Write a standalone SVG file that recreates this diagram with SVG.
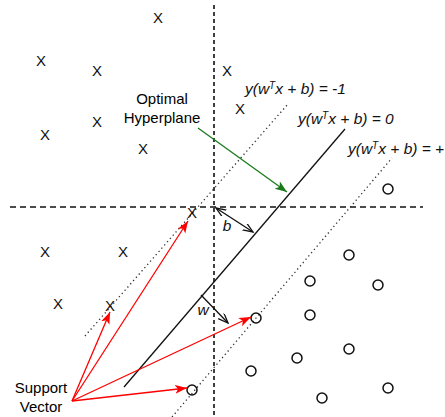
<svg xmlns="http://www.w3.org/2000/svg" width="445" height="417" viewBox="0 0 445 417">
<style>
.t{font-family:"Liberation Sans",Arial,sans-serif;font-size:15px;fill:#000}
.x{font-family:"Liberation Sans",Arial,sans-serif;font-size:15px;fill:#111;text-anchor:middle}
.lab{font-family:"Liberation Sans",Arial,sans-serif;font-size:15.5px;font-style:italic;fill:#111}
.o{fill:none;stroke:#111;stroke-width:1.5}
.axis{stroke:#111;stroke-width:1.6;fill:none}
.dot{stroke:#333;stroke-width:1.3;stroke-dasharray:1.3 3;fill:none}
.red{stroke:#ff0000;stroke-width:1.3;fill:none;marker-end:url(#ar)}
</style>
<defs>
<marker id="ar" markerUnits="userSpaceOnUse" markerWidth="14" markerHeight="10" refX="12" refY="4.5" orient="auto" viewBox="0 0 14 10">
<path d="M0,0 L12,4.5 L0,9 L3,4.5 z" fill="#ff0000"/>
</marker>
<marker id="ag" markerUnits="userSpaceOnUse" markerWidth="14" markerHeight="10" refX="12" refY="4.5" orient="auto" viewBox="0 0 14 10">
<path d="M0,0 L12,4.5 L0,9 L3,4.5 z" fill="#1a7a1a"/>
</marker>
<marker id="ab" markerUnits="userSpaceOnUse" markerWidth="12" markerHeight="10" refX="10" refY="4" orient="auto-start-reverse" viewBox="0 0 12 10">
<path d="M0,0 L10,4 L0,8" fill="none" stroke="#111" stroke-width="1.3"/>
</marker>
</defs>

<g id="axes">
<line class="axis" x1="214" y1="5" x2="214" y2="417" stroke-dasharray="4 3" stroke-width="1.8"/>
<line class="axis" x1="10" y1="207" x2="423" y2="207" stroke-dasharray="6 4" stroke="#333" stroke-width="1.3"/>
</g>

<g id="hyperplanes">
<line id="hp0" x1="124" y1="387" x2="345" y2="129" stroke="#111" stroke-width="1.3"/>
<line id="hpm1" class="dot" x1="85" y1="336" x2="288" y2="104"/>
<line id="hpp1" class="dot" x1="172" y1="417" x2="392" y2="158"/>
</g>

<g id="xpoints">
<text class="x" x="158" y="23">X</text>
<text class="x" x="41" y="66">X</text>
<text class="x" x="97" y="76">X</text>
<text class="x" x="227" y="76">X</text>
<text class="x" x="240" y="114">X</text>
<text class="x" x="97" y="127">X</text>
<text class="x" x="45" y="140">X</text>
<text class="x" x="143" y="154">X</text>
<text class="x" x="192" y="218">X</text>
<text class="x" x="45" y="257">X</text>
<text class="x" x="123" y="257">X</text>
<text class="x" x="58" y="309">X</text>
<text class="x" x="110" y="311">X</text>
</g>

<g id="opoints">
<circle class="o" cx="388" cy="189" r="5"/>
<circle class="o" cx="349" cy="255" r="5"/>
<circle class="o" cx="310" cy="281" r="5"/>
<circle class="o" cx="378" cy="285" r="5"/>
<circle class="o" cx="256" cy="318" r="5"/>
<circle class="o" cx="310" cy="315" r="5"/>
<circle class="o" cx="349" cy="349" r="5"/>
<circle class="o" cx="297" cy="358" r="5"/>
<circle class="o" cx="251" cy="371" r="5"/>
<circle class="o" cx="388" cy="388" r="5"/>
<circle class="o" cx="322" cy="398" r="5"/>
<circle class="o" cx="192" cy="390" r="5"/>
</g>

<g id="labels">
<text class="lab" x="245" y="94">y(w<tspan font-size="10" dy="-5">T</tspan><tspan dy="5">x + b) = -1</tspan></text>
<text class="lab" x="298" y="124">y(w<tspan font-size="10" dy="-5">T</tspan><tspan dy="5">x + b) = 0</tspan></text>
<text class="lab" x="348" y="154">y(w<tspan font-size="10" dy="-5">T</tspan><tspan dy="5">x + b) = +</tspan></text>
<text class="lab" x="227" y="231" text-anchor="middle">b</text>
<text class="lab" x="203" y="315" text-anchor="middle">w</text>
</g>

<g id="optimal-hyperplane">
<text class="t" x="162" y="104" text-anchor="middle">Optimal</text>
<text class="t" x="162" y="123" text-anchor="middle">Hyperplane</text>
</g>

<g id="support-vector">
<text class="t" x="41" y="393" text-anchor="middle">Support</text>
<text class="t" x="41" y="412" text-anchor="middle">Vector</text>
</g>

<g id="connectors">
<line x1="198" y1="128" x2="287" y2="192" stroke="#1a7a1a" stroke-width="1.3" marker-end="url(#ag)"/>
<line x1="216" y1="208" x2="253" y2="232" stroke="#111" stroke-width="1.3" marker-start="url(#ab)" marker-end="url(#ab)"/>
<line x1="201" y1="295" x2="228" y2="323" stroke="#111" stroke-width="1.3" marker-end="url(#ab)"/>
<line class="red" x1="72" y1="401" x2="110" y2="312"/>
<line class="red" x1="72" y1="401" x2="188" y2="221"/>
<line class="red" x1="72" y1="401" x2="251" y2="317"/>
<line class="red" x1="72" y1="401" x2="187" y2="388"/>
</g>
</svg>
